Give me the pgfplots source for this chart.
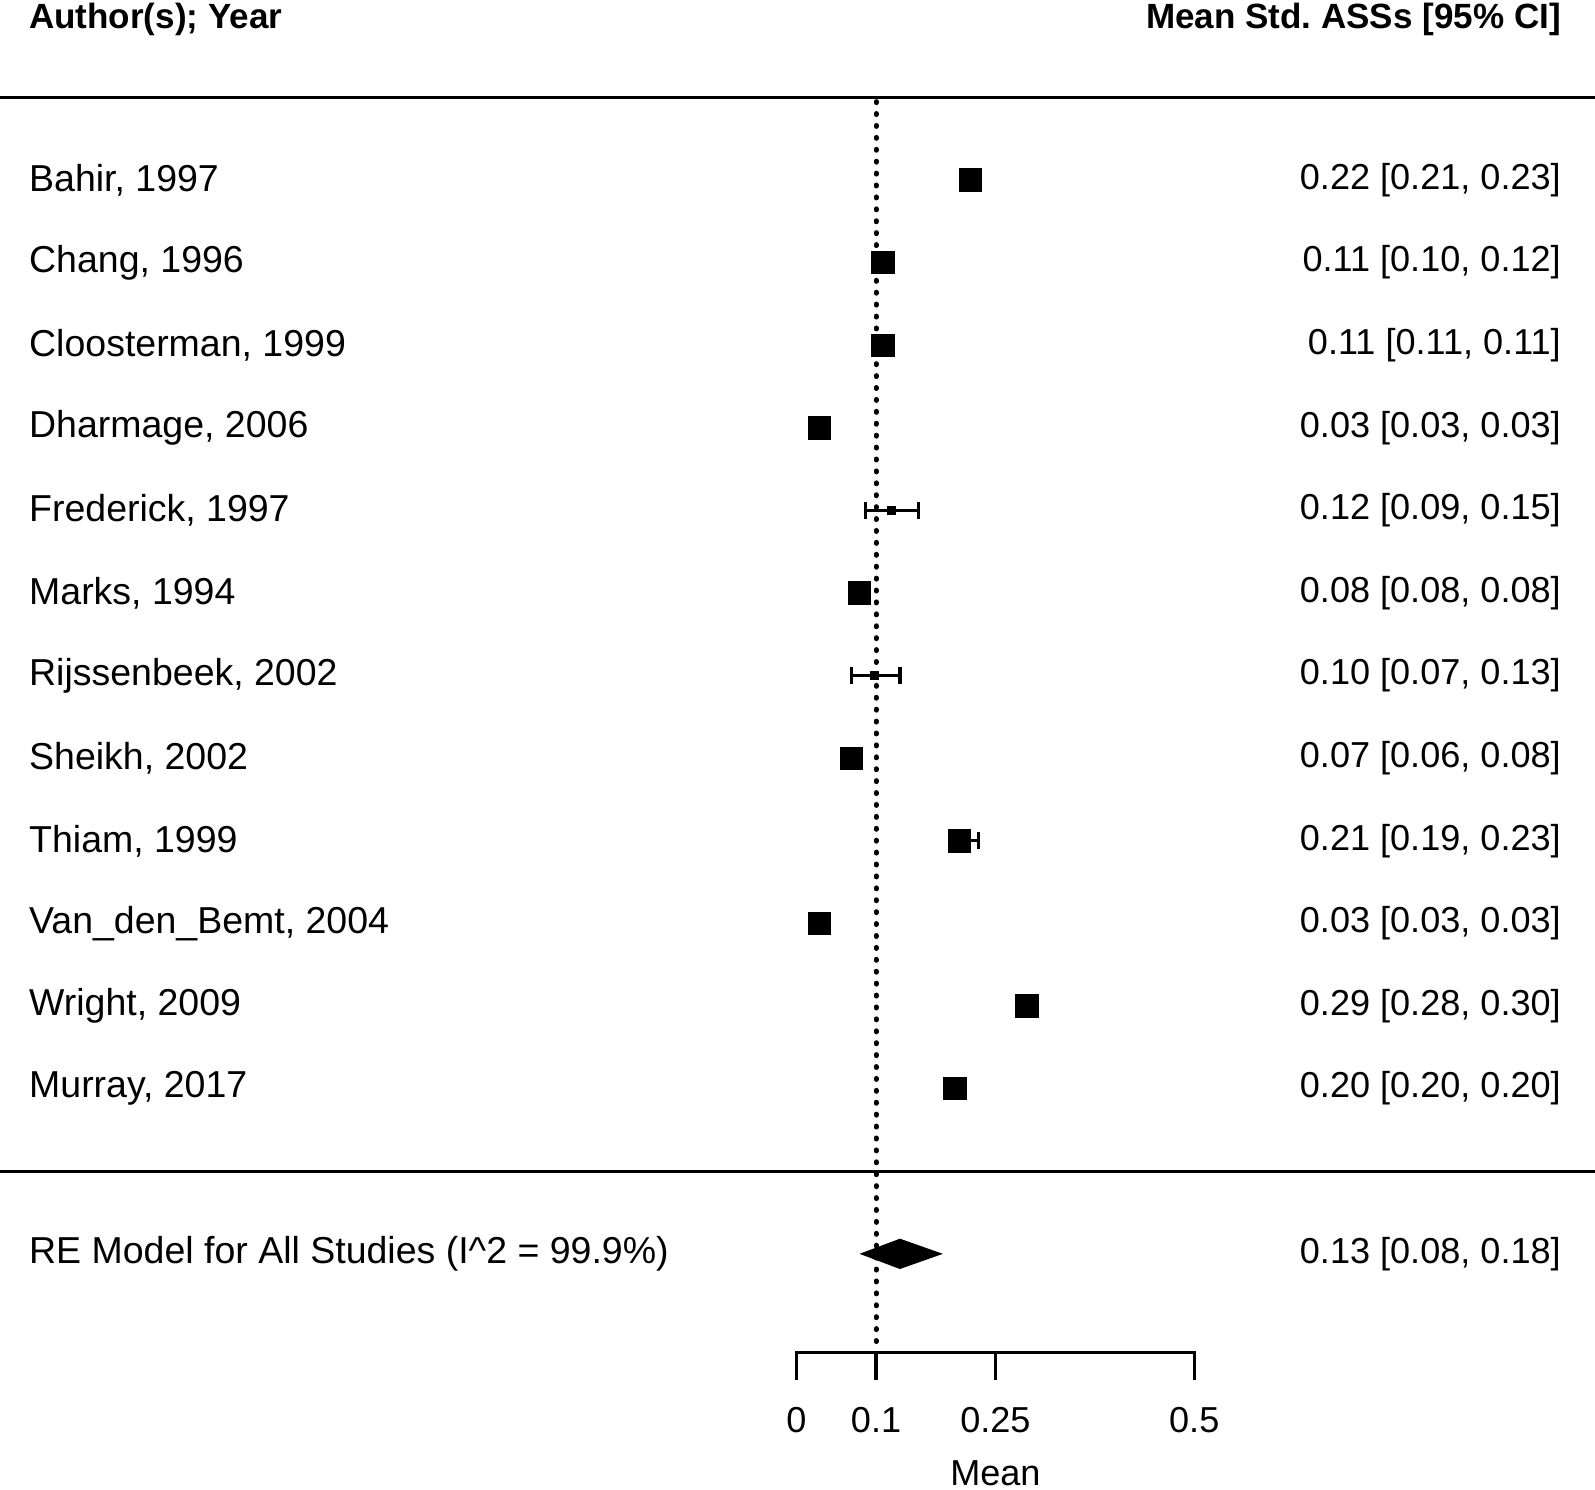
\documentclass[border=0pt]{standalone}
\usepackage{fontspec}
\setmainfont{Liberation Sans}
\usepackage{pgfplots}
\pgfplotsset{compat=1.18}
\usepackage{pgfplotstable}
\frenchspacing

\pgfplotstableread{
x      y   em     ep
0.219  12  0.009  0.011
0.109  11  0.009  0.011
0.109  10  0.001  0.001
0.029  9   0.001  0.001
0.079  7   0.001  0.001
0.069  5   0.009  0.011
0.205  4   0.012  0.024
0.029  3   0.001  0.001
0.290  2   0.010  0.010
0.1995 1   0.001  0.001
}\bigsq

\pgfplotstableread{
x      y   em     ep
0.119  8   0.032  0.034
0.098  6   0.029  0.032
}\smallsq

\begin{document}
\begin{tikzpicture}
\begin{axis}[
  width=16cm, height=14.939cm, scale only axis,
  xmin=-1.0013, xmax=1.0038, ymin=-3.85, ymax=14.18,
  hide axis, clip=false,
]
% horizontal rules
\addplot[black, line width=0.9pt] coordinates {(-1.0013,13) (1.0038,13)};
\addplot[black, line width=0.9pt] coordinates {(-1.0013,0) (1.0038,0)};
% reference line
\addplot[black, line width=1.4pt, line cap=round, dash pattern=on 0.3pt off 3.1pt] coordinates {(0.1,12.95) (0.1,-2.19)};
% x axis
\addplot[black, line width=0.9pt] coordinates {(0,-2.53) (0,-2.19) (0.5,-2.19) (0.5,-2.53)};
\addplot[black, line width=0.9pt] coordinates {(0.1,-2.19) (0.1,-2.53)};
\addplot[black, line width=0.9pt] coordinates {(0.25,-2.19) (0.25,-2.53)};
% studies
\addplot[black, only marks, mark=square*, mark size=3.2pt,
  mark options={fill=black, draw=black, line width=0.3pt},
  error bars/.cd, x dir=both, x explicit,
  error bar style={line width=0.9pt, black},
  error mark options={rotate=90, line width=0.9pt, mark size=2.4pt, black}]
  table[x=x, y=y, x error plus=ep, x error minus=em] {\bigsq};
\addplot[black, only marks, mark=square*, mark size=1.1pt,
  mark options={fill=black, draw=black},
  error bars/.cd, x dir=both, x explicit,
  error bar style={line width=0.9pt, black},
  error mark options={rotate=90, line width=0.9pt, mark size=2.4pt, black}]
  table[x=x, y=y, x error plus=ep, x error minus=em] {\smallsq};
% summary diamond
\addplot[black, fill=black, line width=0.6pt] coordinates {(0.083,-1) (0.13,-0.83) (0.180,-1) (0.13,-1.17)} -- cycle;

% headers
\begin{scope}[every node/.style={inner sep=0pt}]
\node[anchor=west, font=\fontsize{10}{12}\selectfont\bfseries] at (axis cs:-0.9655,13.94) {Author(s); Year};
\node[anchor=east, font=\fontsize{10}{12}\selectfont\bfseries] at (axis cs:0.9616,13.94) {Mean Std. ASSs [95\% CI]};
\end{scope}

% labels
\begin{scope}[every node/.style={inner sep=0pt, font=\fontsize{10.7}{12}\selectfont}]
\node[anchor=west] at (axis cs:-0.9655,12) {Bahir, 1997};
\node[anchor=west] at (axis cs:-0.9655,11) {Chang, 1996};
\node[anchor=west] at (axis cs:-0.9655,10) {Cloosterman, 1999};
\node[anchor=west] at (axis cs:-0.9655,9) {Dharmage, 2006};
\node[anchor=west] at (axis cs:-0.9655,8) {Frederick, 1997};
\node[anchor=west] at (axis cs:-0.9655,7) {Marks, 1994};
\node[anchor=west] at (axis cs:-0.9655,6) {Rijssenbeek, 2002};
\node[anchor=west] at (axis cs:-0.9655,5) {Sheikh, 2002};
\node[anchor=west] at (axis cs:-0.9655,4) {Thiam, 1999};
\node[anchor=west] at (axis cs:-0.9655,3) {Van\_den\_Bemt, 2004};
\node[anchor=west] at (axis cs:-0.9655,2) {Wright, 2009};
\node[anchor=west] at (axis cs:-0.9655,1) {Murray, 2017};
\node[anchor=west] at (axis cs:-0.9655,-1) {RE Model for All Studies (I\^{}2 = 99.9\%)};
\end{scope}
\begin{scope}[every node/.style={inner sep=0pt, font=\fontsize{10.3}{12}\selectfont}]
\node[anchor=east] at (axis cs:0.9616,12) {0.22 [0.21, 0.23]};
\node[anchor=east] at (axis cs:0.9616,11) {0.11 [0.10, 0.12]};
\node[anchor=east] at (axis cs:0.9616,10) {0.11 [0.11, 0.11]};
\node[anchor=east] at (axis cs:0.9616,9) {0.03 [0.03, 0.03]};
\node[anchor=east] at (axis cs:0.9616,8) {0.12 [0.09, 0.15]};
\node[anchor=east] at (axis cs:0.9616,7) {0.08 [0.08, 0.08]};
\node[anchor=east] at (axis cs:0.9616,6) {0.10 [0.07, 0.13]};
\node[anchor=east] at (axis cs:0.9616,5) {0.07 [0.06, 0.08]};
\node[anchor=east] at (axis cs:0.9616,4) {0.21 [0.19, 0.23]};
\node[anchor=east] at (axis cs:0.9616,3) {0.03 [0.03, 0.03]};
\node[anchor=east] at (axis cs:0.9616,2) {0.29 [0.28, 0.30]};
\node[anchor=east] at (axis cs:0.9616,1) {0.20 [0.20, 0.20]};
\node[anchor=east] at (axis cs:0.9616,-1) {0.13 [0.08, 0.18]};

\node at (axis cs:0,-3.016) {0};
\node at (axis cs:0.1,-3.016) {0.1};
\node at (axis cs:0.25,-3.016) {0.25};
\node at (axis cs:0.5,-3.016) {0.5};
\node at (axis cs:0.25,-3.66) {Mean};
\end{scope}
\end{axis}
\pgfresetboundingbox
\path (current axis.south west) rectangle (current axis.north east);
\end{tikzpicture}
\end{document}
